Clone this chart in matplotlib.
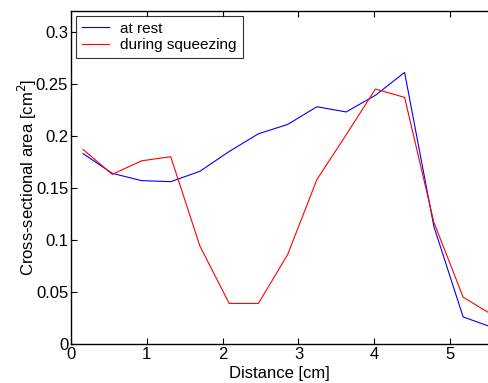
import numpy as np
import matplotlib.pyplot as plt

plt.rcParams['font.family'] = ['Liberation Sans', 'DejaVu Sans']

# distance along the vessel [cm]
distance = [0.158, 0.544, 0.929, 1.315, 1.701, 2.086, 2.472, 2.858,
            3.243, 3.629, 4.015, 4.400, 4.786, 5.172, 5.557]

area_rest = [0.183, 0.164, 0.157, 0.156, 0.166, 0.185, 0.202, 0.211,
             0.228, 0.223, 0.239, 0.261, 0.113, 0.026, 0.016]

area_squeeze = [0.187, 0.163, 0.176, 0.180, 0.094, 0.039, 0.039, 0.086,
                0.158, 0.201, 0.245, 0.237, 0.117, 0.045, 0.028]

fig = plt.figure(figsize=(4.88, 3.83), dpi=100)
ax = fig.add_axes([71 / 488, 39 / 383, 1 - 71 / 488, 333 / 383])

ax.plot(distance, area_rest, color="blue", linewidth=0.8, label="at rest")
ax.plot(distance, area_squeeze, color="red", linewidth=0.8, label="during squeezing")

ax.set_xlim(0, 5.5)
ax.set_ylim(0, 0.32)
ax.set_xticks([0, 1, 2, 3, 4, 5])
ax.set_yticks([0, 0.05, 0.1, 0.15, 0.2, 0.25, 0.3])
ax.set_yticklabels(["0", "0.05", "0.1", "0.15", "0.2", "0.25", "0.3"])
ax.tick_params(direction="in", top=True, right=False, labelsize=12,
               length=4, width=0.8, pad=2)
ax.spines["right"].set_visible(False)
for side in ["left", "bottom", "top"]:
    ax.spines[side].set_linewidth(1.0)

ax.set_xlabel("Distance [cm]", fontsize=12, labelpad=3)
ax.set_ylabel("Cross-sectional area [cm$^2$]", fontsize=12, labelpad=-2)

leg = ax.legend(loc="upper left", fontsize=11, frameon=True, fancybox=False,
                edgecolor="black", borderaxespad=0.3, handlelength=1.8,
                labelspacing=0.15, borderpad=0.4, handletextpad=0.7)
leg.get_frame().set_linewidth(0.8)

fig.savefig("out.png", dpi=100)
